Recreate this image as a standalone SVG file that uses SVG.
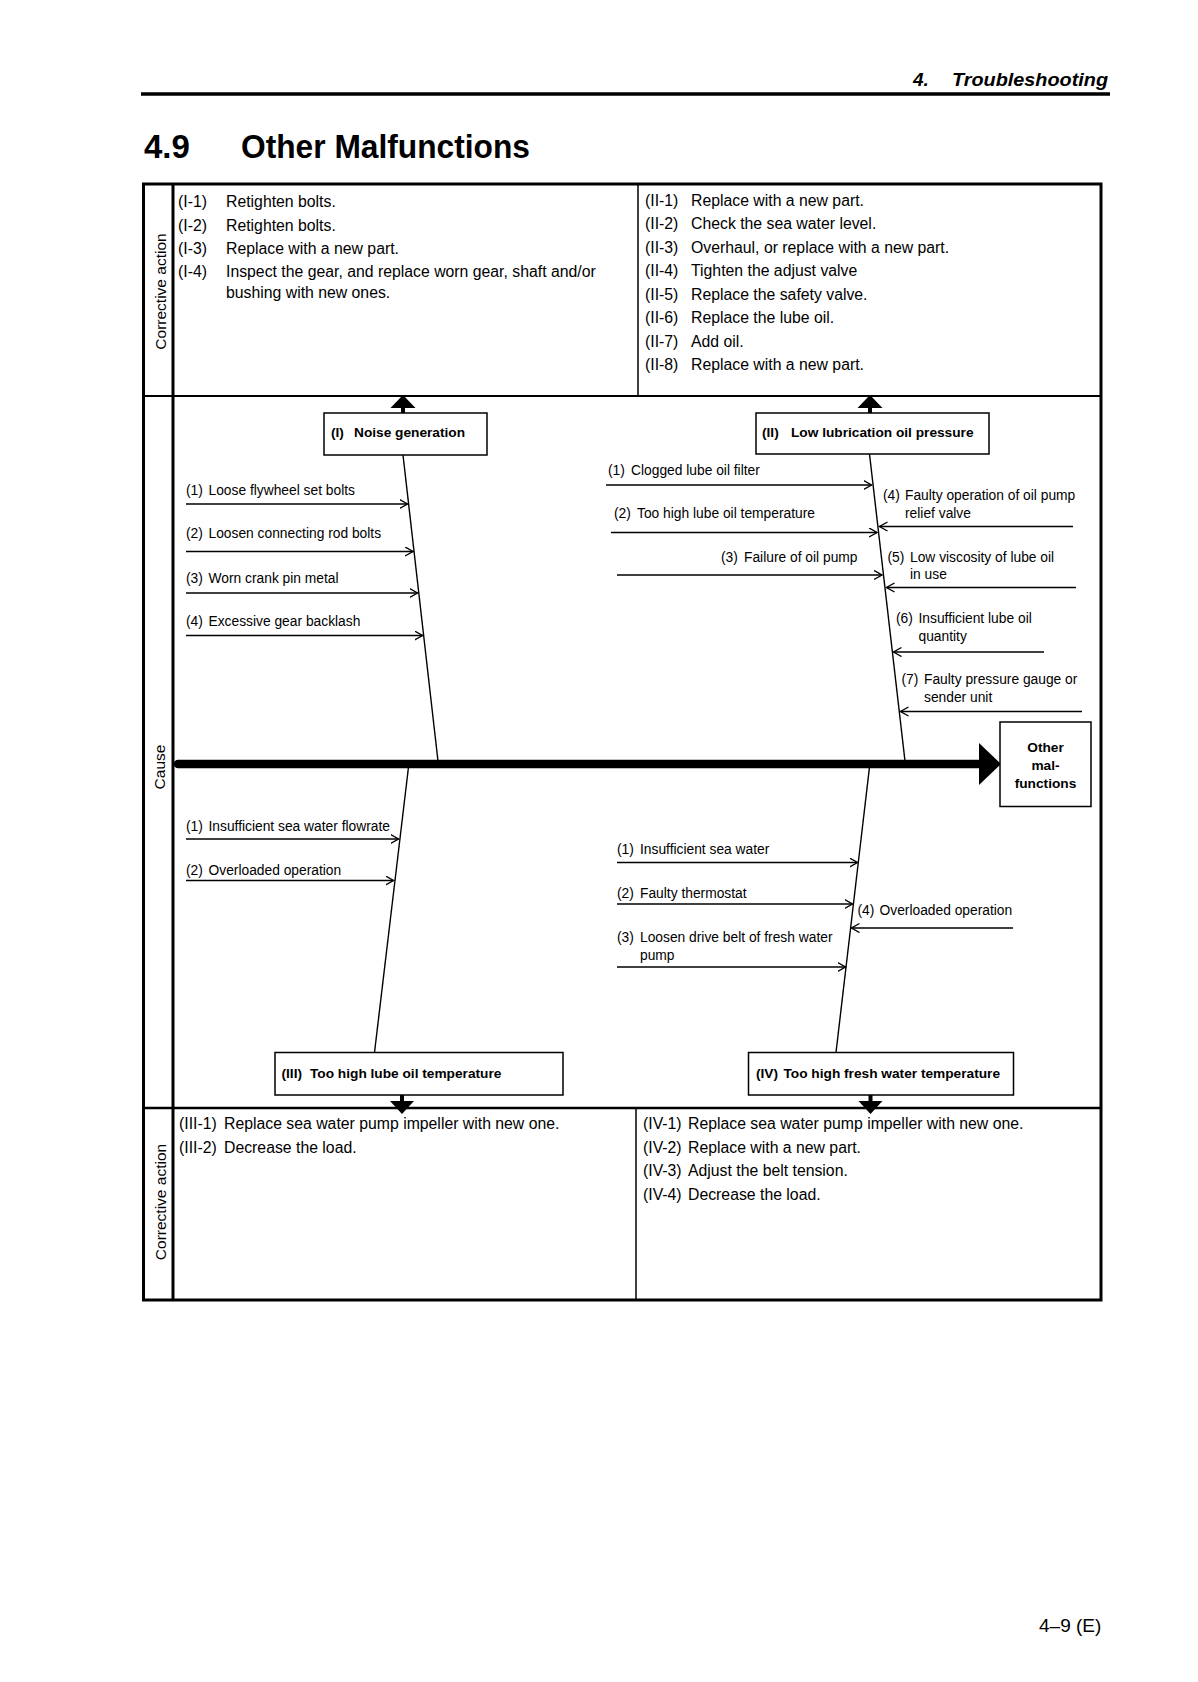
<svg xmlns="http://www.w3.org/2000/svg" width="1198" height="1682" viewBox="0 0 1198 1682">
<defs>
<style>
text{font-family:"Liberation Sans",Arial,Helvetica,sans-serif;fill:#000}
.act{font-size:15.8px}
.cz{font-size:13.8px}
.bx{font-size:13.7px;font-weight:bold}
.lbl{font-size:15.5px}
.box{fill:#fff;stroke:#000;stroke-width:1.5}
.cl{stroke:#000;stroke-width:1.4;fill:none}
.bone{stroke:#000;stroke-width:1.4;fill:none}
.frame{stroke:#000;fill:none}
</style>
<marker id="ar" markerUnits="userSpaceOnUse" markerWidth="12" markerHeight="12" refX="8" refY="5" orient="auto">
<path d="M0,0.5 L8,5 L0,9.5" fill="none" stroke="#000" stroke-width="1.4"/>
</marker>
</defs>
<rect width="1198" height="1682" fill="#fff"/>

<g id="header">
<text x="913" y="86" style="font-size:19px;font-weight:bold;font-style:italic">4.</text>
<text x="952" y="86" style="font-size:19px;font-weight:bold;font-style:italic" textLength="156" lengthAdjust="spacingAndGlyphs">Troubleshooting</text>
<line x1="141" y1="94" x2="1110" y2="94" stroke="#000" stroke-width="3.3"/>
<text x="144" y="158" style="font-size:33px;font-weight:bold">4.9</text>
<text x="241" y="158" style="font-size:33px;font-weight:bold" textLength="289" lengthAdjust="spacingAndGlyphs">Other Malfunctions</text>
</g>

<g id="table">
<rect class="frame" x="143.5" y="184" width="957.5" height="1116" stroke-width="3"/>
<line class="frame" x1="173" y1="184" x2="173" y2="1300" stroke-width="3"/>
<line class="frame" x1="143" y1="396" x2="1101" y2="396" stroke-width="2"/>
<line class="frame" x1="143" y1="1108" x2="1101" y2="1108" stroke-width="2.5"/>
<line class="frame" x1="638" y1="184" x2="638" y2="396" stroke-width="1.5"/>
<line class="frame" x1="636" y1="1108" x2="636" y2="1300" stroke-width="1.5"/>
<text class="lbl" text-anchor="middle" transform="translate(166,291.5) rotate(-90)">Corrective action</text>
<text class="lbl" text-anchor="middle" transform="translate(165,767) rotate(-90)">Cause</text>
<text class="lbl" text-anchor="middle" transform="translate(166,1202) rotate(-90)">Corrective action</text>
</g>

<g id="actions-I">
<text class="act" x="178" y="207">(I-1)<tspan x="226">Retighten bolts.</tspan></text>
<text class="act" x="178" y="230.5">(I-2)<tspan x="226">Retighten bolts.</tspan></text>
<text class="act" x="178" y="254">(I-3)<tspan x="226">Replace with a new part.</tspan></text>
<text class="act" x="178" y="277">(I-4)<tspan x="226">Inspect the gear, and replace worn gear, shaft and/or</tspan></text>
<text class="act" x="226" y="297.5">bushing with new ones.</text>
</g>

<g id="actions-II">
<text class="act" x="645" y="205.5">(II-1)<tspan x="691">Replace with a new part.</tspan></text>
<text class="act" x="645" y="229">(II-2)<tspan x="691">Check the sea water level.</tspan></text>
<text class="act" x="645" y="252.5">(II-3)<tspan x="691">Overhaul, or replace with a new part.</tspan></text>
<text class="act" x="645" y="276">(II-4)<tspan x="691">Tighten the adjust valve</tspan></text>
<text class="act" x="645" y="299.5">(II-5)<tspan x="691">Replace the safety valve.</tspan></text>
<text class="act" x="645" y="323">(II-6)<tspan x="691">Replace the lube oil.</tspan></text>
<text class="act" x="645" y="346.5">(II-7)<tspan x="691">Add oil.</tspan></text>
<text class="act" x="645" y="370">(II-8)<tspan x="691">Replace with a new part.</tspan></text>
</g>

<g id="actions-III">
<text class="act" x="179" y="1129">(III-1)<tspan x="224">Replace sea water pump impeller with new one.</tspan></text>
<text class="act" x="179" y="1152.5">(III-2)<tspan x="224">Decrease the load.</tspan></text>
</g>

<g id="actions-IV">
<text class="act" x="643" y="1129">(IV-1)<tspan x="688">Replace sea water pump impeller with new one.</tspan></text>
<text class="act" x="643" y="1152.5">(IV-2)<tspan x="688">Replace with a new part.</tspan></text>
<text class="act" x="643" y="1176">(IV-3)<tspan x="688">Adjust the belt tension.</tspan></text>
<text class="act" x="643" y="1199.5">(IV-4)<tspan x="688">Decrease the load.</tspan></text>
</g>

<g id="connectors">
<line x1="178" y1="764" x2="982" y2="764" stroke="#000" stroke-width="8.5" stroke-linecap="round"/>
<polygon points="979,743 1001,764 979,785" fill="#000"/>
<line class="bone" x1="403" y1="455" x2="438" y2="761"/>
<line class="bone" x1="869.5" y1="454" x2="905" y2="761"/>
<line class="bone" x1="408.5" y1="767" x2="374.5" y2="1052.5"/>
<line class="bone" x1="869.5" y1="767" x2="836" y2="1052.5"/>
<rect x="401" y="406" width="4" height="7" fill="#000"/>
<polygon points="390.5,408 403,395 415.5,408" fill="#000"/>
<rect x="868" y="406" width="4" height="7" fill="#000"/>
<polygon points="857.5,408 870,395 882.5,408" fill="#000"/>
<rect x="400" y="1095" width="4" height="7" fill="#000"/>
<polygon points="390,1101 414,1101 402,1114" fill="#000"/>
<rect x="868.5" y="1095" width="4" height="7" fill="#000"/>
<polygon points="858.5,1101 882.5,1101 870.5,1114" fill="#000"/>
<line class="cl" x1="186" y1="504" x2="407.5" y2="504" marker-end="url(#ar)"/>
<line class="cl" x1="186" y1="551.5" x2="413" y2="551.5" marker-end="url(#ar)"/>
<line class="cl" x1="186" y1="593" x2="417.5" y2="593" marker-end="url(#ar)"/>
<line class="cl" x1="186" y1="635.5" x2="422.5" y2="635.5" marker-end="url(#ar)"/>
<line class="cl" x1="606" y1="485" x2="871.5" y2="485" marker-end="url(#ar)"/>
<line class="cl" x1="611" y1="532.5" x2="877" y2="532.5" marker-end="url(#ar)"/>
<line class="cl" x1="617" y1="575" x2="882" y2="575" marker-end="url(#ar)"/>
<line class="cl" x1="1073" y1="526.5" x2="879.5" y2="526.5" marker-end="url(#ar)"/>
<line class="cl" x1="1076" y1="587.5" x2="886.5" y2="587.5" marker-end="url(#ar)"/>
<line class="cl" x1="1044" y1="652" x2="893.5" y2="652" marker-end="url(#ar)"/>
<line class="cl" x1="1082" y1="711.5" x2="900.5" y2="711.5" marker-end="url(#ar)"/>
<line class="cl" x1="186" y1="839" x2="398.5" y2="839" marker-end="url(#ar)"/>
<line class="cl" x1="186" y1="880.5" x2="393.5" y2="880.5" marker-end="url(#ar)"/>
<line class="cl" x1="617" y1="862.5" x2="857.5" y2="862.5" marker-end="url(#ar)"/>
<line class="cl" x1="617" y1="904" x2="852.5" y2="904" marker-end="url(#ar)"/>
<line class="cl" x1="617" y1="967" x2="845.5" y2="967" marker-end="url(#ar)"/>
<line class="cl" x1="1013" y1="928" x2="851.5" y2="928" marker-end="url(#ar)"/>
</g>

<g id="node-I">
<rect class="box" x="324" y="413" width="163" height="42"/>
<text class="bx" x="331" y="437">(I)<tspan x="354">Noise generation</tspan></text>
</g>
<g id="node-II">
<rect class="box" x="756" y="413" width="233" height="41"/>
<text class="bx" x="762" y="437">(II)<tspan x="791">Low lubrication oil pressure</tspan></text>
</g>
<g id="node-III">
<rect class="box" x="275" y="1052.5" width="288" height="42.5"/>
<text class="bx" x="281.5" y="1078">(III)<tspan x="310">Too high lube oil temperature</tspan></text>
</g>
<g id="node-IV">
<rect class="box" x="748.5" y="1052.5" width="265" height="42.5"/>
<text class="bx" x="756" y="1077.5">(IV)<tspan x="783.5">Too high fresh water temperature</tspan></text>
</g>
<g id="node-other">
<rect class="box" x="1000" y="722" width="91" height="84.5"/>
<text class="bx" x="1045.5" y="751.5" text-anchor="middle">Other</text>
<text class="bx" x="1045.5" y="770" text-anchor="middle">mal-</text>
<text class="bx" x="1045.5" y="788" text-anchor="middle">functions</text>
</g>

<g id="causes-I">
<text class="cz" x="186" y="495">(1)<tspan x="208.5">Loose flywheel set bolts</tspan></text>
<text class="cz" x="186" y="538">(2)<tspan x="208.5">Loosen connecting rod bolts</tspan></text>
<text class="cz" x="186" y="582.5">(3)<tspan x="208.5">Worn crank pin metal</tspan></text>
<text class="cz" x="186" y="625.5">(4)<tspan x="208.5">Excessive gear backlash</tspan></text>
</g>
<g id="causes-II">
<text class="cz" x="608" y="475">(1)<tspan x="631">Clogged lube oil filter</tspan></text>
<text class="cz" x="614" y="518">(2)<tspan x="637">Too high lube oil temperature</tspan></text>
<text class="cz" x="721" y="561.5">(3)<tspan x="744">Failure of oil pump</tspan></text>
<text class="cz" x="883" y="500">(4)<tspan x="905">Faulty operation of oil pump</tspan></text>
<text class="cz" x="905" y="517.5">relief valve</text>
<text class="cz" x="887.5" y="561.5">(5)<tspan x="910">Low viscosity of lube oil</tspan></text>
<text class="cz" x="910" y="579">in use</text>
<text class="cz" x="896" y="623">(6)<tspan x="918.5">Insufficient lube oil</tspan></text>
<text class="cz" x="918.5" y="640.5">quantity</text>
<text class="cz" x="901.5" y="684">(7)<tspan x="924">Faulty pressure gauge or</tspan></text>
<text class="cz" x="924" y="701.5">sender unit</text>
</g>
<g id="causes-III">
<text class="cz" x="186" y="831">(1)<tspan x="208.5">Insufficient sea water flowrate</tspan></text>
<text class="cz" x="186" y="875">(2)<tspan x="208.5">Overloaded operation</tspan></text>
</g>
<g id="causes-IV">
<text class="cz" x="617" y="854">(1)<tspan x="640">Insufficient sea water</tspan></text>
<text class="cz" x="617" y="898">(2)<tspan x="640">Faulty thermostat</tspan></text>
<text class="cz" x="617" y="941.5">(3)<tspan x="640">Loosen drive belt of fresh water</tspan></text>
<text class="cz" x="640" y="960">pump</text>
<text class="cz" x="857.5" y="915">(4)<tspan x="879.5">Overloaded operation</tspan></text>
</g>

<text x="1039" y="1631.5" style="font-size:19px">4–9 (E)</text>
</svg>
